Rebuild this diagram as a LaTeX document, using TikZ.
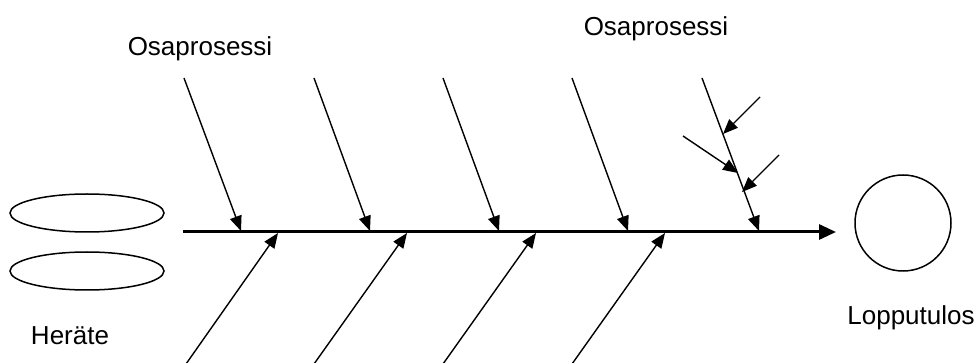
\documentclass[tikz,border=0pt]{standalone}
\usepackage{fontspec}
\setmainfont{Liberation Sans}
\usetikzlibrary{arrows.meta,shapes.geometric}

\begin{document}
\begin{tikzpicture}[x=0.5pt,y=-0.5pt,>={Triangle[length=7.5pt,width=6pt]}]

        % Styles
        \tikzset{
          bone/.style={->,line width=0.7pt},
          spine/.style={line width=1.5pt,-{Triangle[length=8.5pt,width=7.5pt]}},
          cause/.style={ellipse,draw,line width=0.75pt,minimum width=77pt,
                        minimum height=19pt,inner sep=0pt},
          result/.style={circle,draw,line width=0.75pt,minimum size=48pt,
                         inner sep=0pt},
          lbl/.style={font=\fontsize{13}{15}\selectfont,inner sep=0pt,anchor=base}
        }

        \useasboundingbox (0,0) rectangle (980,363);

        % y-coordinate of the spine
        \def\yspine{232}

        %-------------------------------
        % Trigger and result
        %-------------------------------
        \node[cause] (E1) at (87,213) {};
        \node[cause] (E2) at (87,271) {};
        \node[lbl] (herate) at (70,344) {Heräte};

        \node[result] (tulos) at (903,223) {};
        \node[lbl] (lopputulos) at (911,325) {Lopputulos};

        %-------------------------------
        % Main spine
        %-------------------------------
        \coordinate (S0) at (183,\yspine);
        \coordinate (S1) at (836,\yspine);
        \draw[spine] (S0) -- (S1);

        %-------------------------------
        % Upper bones (sub-processes)
        %-------------------------------
        \foreach \i/\xt/\xb in {1/184/241,2/314/370,3/443/499,4/572/628,5/702/759}{
            \coordinate (U\i) at (\xt,78);
            \coordinate (UT\i) at (\xb,\yspine-1);
            \draw[bone] (U\i) -- (UT\i);
        }

        % Small causes on the last bone
        \coordinate (A1) at (760,97);   \coordinate (AT1) at (723,134);
        \coordinate (A2) at (683,136);  \coordinate (AT2) at (738,173);
        \coordinate (A3) at (779,155);  \coordinate (AT3) at (742,192);
        \draw[bone] (A1) -- (AT1);
        \draw[bone] (A2) -- (AT2);
        \draw[bone] (A3) -- (AT3);

        %-------------------------------
        % Lower bones
        %-------------------------------
        \foreach \i/\xb/\xt in {1/186/278,2/314/407,3/443/536,4/572/665}{
            \coordinate (D\i) at (\xb,364);
            \coordinate (DT\i) at (\xt,\yspine+1);
            \draw[bone] (D\i) -- (DT\i);
        }

        %---------------------------------
        % Labels
        %---------------------------------
        \node[lbl] (osa1) at (200,56) {Osaprosessi};
        \node[lbl] (osa2) at (656,36) {Osaprosessi};

    \end{tikzpicture}
\end{document}
